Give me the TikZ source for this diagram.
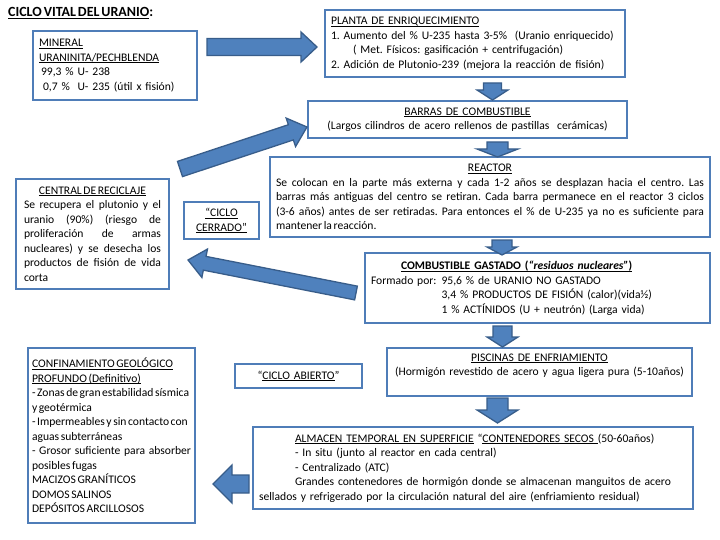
\documentclass[tikz,border=0pt]{standalone}
\usepackage{fontspec}
\setmainfont{Carlito}[WordSpace=0.6]
\usetikzlibrary{calc}
\definecolor{boxblue}{HTML}{4F7DB8}
\definecolor{arrowfill}{HTML}{4F81BD}
\definecolor{arrowline}{HTML}{385D8A}
\newsavebox{\undlbox}
\newcommand{\undl}[1]{\sbox{\undlbox}{#1}\leavevmode\rlap{\rule[-1.6pt]{\wd\undlbox}{0.55pt}}\usebox{\undlbox}}
\frenchspacing
\hyphenpenalty=10000
\exhyphenpenalty=10000
\tikzset{
  box/.style={rectangle, draw=boxblue, line width=2.2pt, inner xsep=6pt, inner ysep=2pt,
    outer sep=0pt, anchor=north west, font=\fontsize{11.6}{14.5}\selectfont},
  blockarrow/.style={fill=arrowfill, draw=arrowline, line width=1.3pt, line join=miter}
  }
% block arrow: tail, tip, half shaft, half head, head length
\newcommand{\bigarrow}[5]{%
  \coordinate (hb) at ($(#2)!#5!(#1)$);
  \draw[blockarrow] ($(#1)!#3!90:(#2)$) -- ($(hb)!#3!90:(#2)$) -- ($(hb)!#4!90:(#2)$)
    -- (#2) -- ($(hb)!#4!-90:(#2)$) -- ($(hb)!#3!-90:(#2)$) -- ($(#1)!#3!-90:(#2)$) -- cycle;}

\begin{document}
\begin{tikzpicture}[x=1pt, y=-1pt]
	% Frame
	\useasboundingbox (0,0) rectangle (720,540);
	\node[anchor=west, inner sep=0pt, font=\bfseries\fontsize{14}{16}\selectfont] (title) at (8,13) {\undl{CICLO VITAL DEL URANIO}:};

	% Nodes
	\node[box, text width=152pt, minimum height=69pt, align=left] (mineral) at (33,31)
		{\undl{MINERAL}\\ \undl{URANINITA/PECHBLENDA}\\ \hspace*{2pt}99,3 \% U- 238\\ \hspace*{4pt}0,7 \%\ \ U- 235 (útil x fisión)};
	\node[box, text width=288pt, minimum height=67pt, align=left] (planta) at (325,10)
		{\undl{PLANTA DE ENRIQUECIMIENTO}\\ 1. Aumento del \% U-235 hasta 3-5\%\ \ (Uranio enriquecido)\\ \hspace*{22pt}( Met. Físicos: gasificación + centrifugación)\\ 2. Adición de Plutonio-239 (mejora la reacción de fisión)};
	\node[box, text width=307pt, minimum height=37pt, align=center] (barras) at (308,101)
		{\undl{BARRAS DE COMBUSTIBLE}\\ (Largos cilindros de acero rellenos de pastillas\ \ cerámicas)};
	\node[box, text width=428pt, minimum height=80pt, align=justify] (reactor) at (270,157)
		{\hspace*{\fill}\undl{REACTOR}\hspace*{\fill}\\ Se colocan en la parte más externa y cada 1-2 años se desplazan hacia el centro. Las\linebreak
		barras más antiguas del centro se retiran. Cada barra permanece en el reactor 3 ciclos\linebreak
		(3-6 años) antes de ser retiradas. Para entonces el \% de U-235 ya no es suficiente para\linebreak
		mantener la reacción.};
	\node[box, text width=333pt, minimum height=70pt, align=left] (gastado) at (365,253)
		{\hspace*{30pt}\undl{\textbf{COMBUSTIBLE GASTADO (\textit{“residuos nucleares”})}}\\
		Formado por:\hspace{5pt}95,6 \% de URANIO NO GASTADO\\
		\hspace*{5pt}\hphantom{Formado por:}3,4 \% PRODUCTOS DE FISIÓN (calor)(vida½)\\
		\hspace*{5pt}\hphantom{Formado por:}1 \% ACTÍNIDOS (U + neutrón) (Larga vida)};
	\node[box, inner xsep=8pt, text width=137pt, minimum height=110pt, align=justify] (reciclaje) at (16,179)
		{\hspace*{\fill}\undl{CENTRAL DE RECICLAJE}\hspace*{\fill}\\ Se recupera el plutonio y el\linebreak uranio (90\%) (riesgo de\linebreak
		proliferación de armas\linebreak nucleares) y se desecha los\linebreak productos de fisión de vida\linebreak corta};
	\node[box, text width=63pt, minimum height=37pt, align=center] (cerrado) at (184,202)
		{\undl{“CICLO}\\ \undl{CERRADO”}};
	\node[box, inner xsep=4pt, text width=159pt, minimum height=175pt, align=justify] (geologico) at (28,348)
		{\undl{CONFINAMIENTO GEOLÓGICO}\\ \undl{PROFUNDO (Definitivo)}\\ - Zonas de gran estabilidad sísmica\\ y geotérmica\\
		- Impermeables y sin contacto con\\ aguas subterráneas\\ - Grosor suficiente para absorber\linebreak posibles fugas\\
		MACIZOS GRANÍTICOS\\ DOMOS SALINOS\\ DEPÓSITOS ARCILLOSOS};
	\node[box, text width=115pt, minimum height=24pt, align=center] (abierto) at (235,364)
		{“\undl{CICLO ABIERTO}”};
	\node[box, text width=293pt, minimum height=48pt, align=center] (piscinas) at (387,348)
		{\undl{PISCINAS DE ENFRIAMIENTO}\\ (Hormigón revestido de acero y agua ligera pura (5-10años)\\ \mbox{}};
	\node[box, text width=428pt, minimum height=82pt, align=left] (almacen) at (253,427)
		{\hspace*{36pt}\undl{ALMACEN TEMPORAL EN SUPERFICIE} “\undl{CONTENEDORES SECOS\ }(50-60años)\\
		\hspace*{36pt}- In situ (junto al reactor en cada central)\\ \hspace*{36pt}- Centralizado (ATC)\\
		\hspace*{36pt}Grandes contenedores de hormigón donde se almacenan manguitos de acero\\
		sellados y refrigerado por la circulación natural del aire (enfriamiento residual)};

	% Arrow ends
	\coordinate (mineral-out) at (207,47);   \coordinate (planta-in) at (317,47);
	\coordinate (planta-out) at (492.5,83);  \coordinate (barras-in) at (492.5,100);
	\coordinate (barras-out) at (497.5,142); \coordinate (reactor-in) at (497.5,157);
	\coordinate (reactor-out) at (502,240);  \coordinate (gastado-in) at (502,255);
	\coordinate (gastado-out) at (502.5,326);\coordinate (piscinas-in) at (502.5,347);
	\coordinate (piscinas-out) at (497.5,398);\coordinate (almacen-in) at (497.5,423);
	\coordinate (almacen-out) at (249,484);  \coordinate (geologico-in) at (213,484);
	\coordinate (gastado-back) at (356,293); \coordinate (reciclaje-in) at (188,260);
	\coordinate (reciclaje-out) at (180,169);\coordinate (barras-back) at (307,127);

	% Arrows
	\bigarrow{mineral-out}{planta-in}{8.5pt}{15pt}{16pt}
	\bigarrow{planta-out}{barras-in}{9pt}{15.5pt}{10pt}
	\bigarrow{barras-out}{reactor-in}{10.5pt}{20.5pt}{8pt}
	\bigarrow{reactor-out}{gastado-in}{10pt}{15pt}{8pt}
	\bigarrow{gastado-out}{piscinas-in}{9.5pt}{15.5pt}{10pt}
	\bigarrow{piscinas-out}{almacen-in}{10.5pt}{20.5pt}{13pt}
	\bigarrow{almacen-out}{geologico-in}{9pt}{19pt}{19pt}
	% Arrows of the closed cycle
	\bigarrow{gastado-back}{reciclaje-in}{7pt}{14.5pt}{17pt}
	\bigarrow{reciclaje-out}{barras-back}{8pt}{15pt}{17pt}
\end{tikzpicture}
\end{document}
